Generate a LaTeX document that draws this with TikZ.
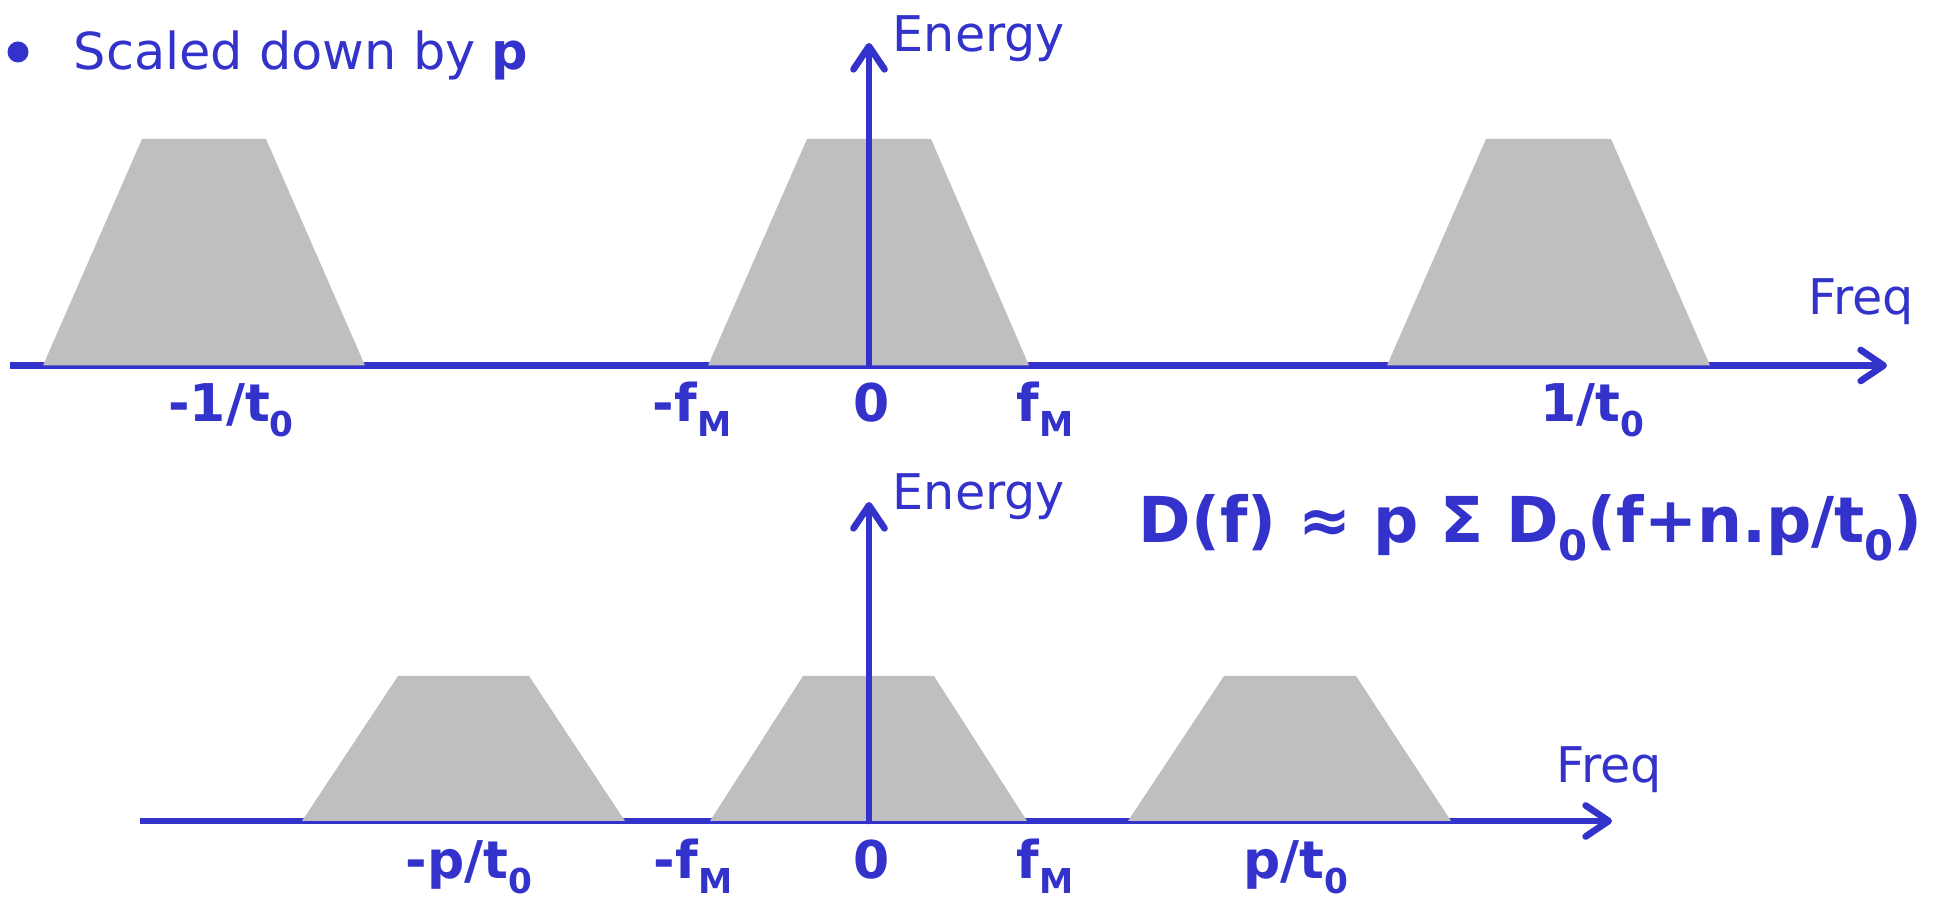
\documentclass[tikz,border=0pt]{standalone}
\usepackage{fontspec}
\setmainfont{DejaVu Sans}
\usepackage{graphicx}
\usetikzlibrary{arrows.meta}
\definecolor{axblue}{HTML}{3333CC}
\definecolor{bandgray}{HTML}{BFBFBF}
\newcommand{\lo}[1]{\raisebox{-0.27em}{\scalebox{0.66}{#1}}}
\tikzset{
  axline/.style={draw=axblue, line width=1.9pt, line cap=round,
    -{Straight Barb[length=2.3mm, width=3.1mm, round]}},
  baseline/.style={draw=axblue, line width=1.9pt,
    -{Straight Barb[length=2.3mm, width=3.1mm, round]}},
  band/.style={fill=bandgray},
  dot/.style={circle, fill=axblue, inner sep=0pt, minimum size=2.1mm},
  headtxt/.style={text=axblue, font=\fontsize{14.5}{17}\selectfont, anchor=base west, inner sep=0pt},
  axlbl/.style={text=axblue, font=\fontsize{14}{16}\selectfont, anchor=base west, inner sep=0pt},
  ticklbl/.style={text=axblue, font=\fontsize{14.8}{17}\selectfont\bfseries, anchor=base, inner sep=0pt},
  formula/.style={text=axblue, font=\fontsize{18}{21}\selectfont\bfseries, anchor=base west, inner sep=0pt},
}
\begin{document}
\begin{tikzpicture}[x=0.1mm,y=-0.1mm]
\useasboundingbox (0,0) rectangle (1943,898);

\coordinate (x1a) at (10,365.5);
\coordinate (x1b) at (1887,365.5);
\coordinate (o1) at (869,365.5);
\coordinate (y1b) at (869,43);
\coordinate (x2a) at (140,821);
\coordinate (x2b) at (1612,821);
\coordinate (o2) at (869,821);
\coordinate (y2b) at (869,502);

\draw[baseline] (x1a) -- (x1b);
\draw[baseline] (x2a) -- (x2b);

\fill[band] (43,365.5) -- (142,139) -- (266,139) -- (365,365.5) -- cycle;
\fill[band] (708,365.5) -- (807,139) -- (931,139) -- (1029,365.5) -- cycle;
\fill[band] (1387,365.5) -- (1486,139) -- (1611,139) -- (1710,365.5) -- cycle;
\fill[band] (302,821) -- (398,676) -- (529,676) -- (625,821) -- cycle;
\fill[band] (710,821) -- (803,676) -- (934,676) -- (1027,821) -- cycle;
\fill[band] (1128,821) -- (1224,676) -- (1356,676) -- (1451,821) -- cycle;

\draw[axline] (o1) -- (y1b);
\draw[axline] (o2) -- (y2b);

\node[dot] (bullet) at (18,52) {};
\node[headtxt] (head) at (73,70) {Scaled down by \textbf{p}};

\node[axlbl] (en1) at (892,52) {Energy};
\node[axlbl] (fq1) at (1808,315) {Freq};
\node[axlbl] (en2) at (892,510) {Energy};
\node[axlbl] (fq2) at (1556,783) {Freq};

\node[ticklbl] (m1t) at (231,422) {-1/t\lo{0}};
\node[ticklbl] (fm1n) at (692,422) {-f\lo{M}};
\node[ticklbl] (z1) at (872,422) {0};
\node[ticklbl] (fm1p) at (1045,422) {f\lo{M}};
\node[ticklbl] (p1t) at (1592,422) {1/t\lo{0}};

\node[ticklbl] (m2t) at (469,879) {-p/t\lo{0}};
\node[ticklbl] (fm2n) at (693,879) {-f\lo{M}};
\node[ticklbl] (z2) at (872,879) {0};
\node[ticklbl] (fm2p) at (1045,879) {f\lo{M}};
\node[ticklbl] (p2t) at (1296,879) {p/t\lo{0}};

\node[formula] (dsum) at (1138,543) {D(f) ≈ p Σ D\lo{0}(f+n.p/t\lo{0})};
\end{tikzpicture}
\end{document}
